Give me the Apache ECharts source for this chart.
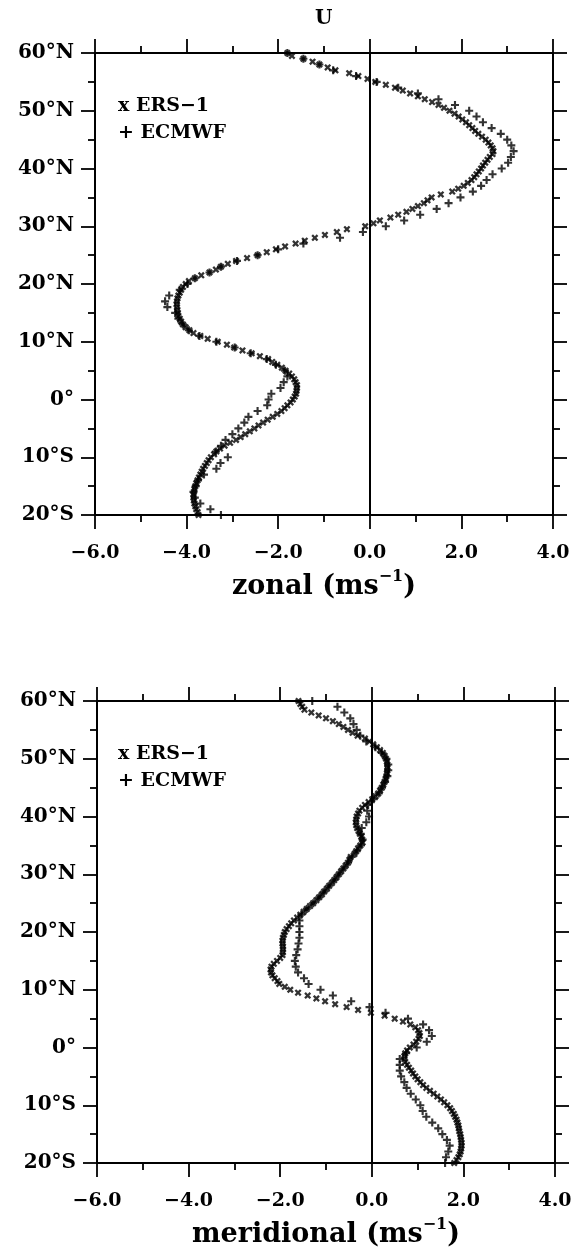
<!DOCTYPE html>
<html>
<head>
<meta charset="utf-8">
<script src="https://cdn.jsdelivr.net/npm/echarts@6/dist/echarts.min.js"></script>
<style>
html,body{margin:0;padding:0;background:#fff;}
#chart{width:576px;height:1253px;}
</style>
</head>
<body>
<div id="chart"></div>
<script>
// Latitudes (deg, +N / -S)
const latERS = [60,59.5,59,58.5,58,57.5,57,56.5,56,55.5,
55,54.5,54,53.5,53,52.5,52,51.5,51,50.5,
50,49.5,49,48.5,48,47.5,47,46.5,46,45.5,
45,44.5,44,43.5,43,42.5,42,41.5,41,40.5,
40,39.5,39,38.5,38,37.5,37,36.5,36,35.5,
35,34.5,34,33.5,33,32.5,32,31.5,31,30.5,
30,29.5,29,28.5,28,27.5,27,26.5,26,25.5,
25,24.5,24,23.5,23,22.5,22,21.5,21,20.5,
20,19.5,19,18.5,18,17.5,17,16.5,16,15.5,
15,14.5,14,13.5,13,12.5,12,11.5,11,10.5,
10,9.5,9,8.5,8,7.5,7,6.5,6,5.5,
5,4.5,4,3.5,3,2.5,2,1.5,1,0.5,
0,-0.5,-1,-1.5,-2,-2.5,-3,-3.5,-4,-4.5,
-5,-5.5,-6,-6.5,-7,-7.5,-8,-8.5,-9,-9.5,
-10,-10.5,-11,-11.5,-12,-12.5,-13,-13.5,-14,-14.5,
-15,-15.5,-16,-16.5,-17,-17.5,-18,-18.5,-19,-19.5,
-20];
const latECM = [60,59,58,57,56,55,54,53,52,51,
50,49,48,47,46,45,44,43,42,41,
40,39,38,37,36,35,34,33,32,31,
30,29,28,27,26,25,24,23,22,21,
20,19,18,17,16,15,14,13,12,11,
10,9,8,7,6,5,4,3,2,1,
0,-1,-2,-3,-4,-5,-6,-7,-8,-9,
-10,-11,-12,-13,-14,-15,-16,-17,-18,-19,
-20];

// Zonal wind (m/s)
const zonalERS = [-1.80,-1.70,-1.45,-1.25,-1.10,-0.92,-0.75,-0.45,-0.25,-0.05,
0.12,0.35,0.55,0.72,0.88,1.05,1.20,1.36,1.50,1.62,
1.74,1.85,1.94,2.02,2.10,2.17,2.24,2.30,2.37,2.45,
2.53,2.59,2.64,2.68,2.70,2.68,2.62,2.57,2.52,2.47,
2.43,2.38,2.33,2.28,2.22,2.14,2.05,1.93,1.80,1.55,
1.35,1.26,1.18,1.05,0.93,0.80,0.62,0.45,0.22,0.08,
-0.10,-0.50,-0.72,-0.98,-1.20,-1.42,-1.62,-1.85,-2.05,-2.25,
-2.45,-2.68,-2.92,-3.10,-3.25,-3.36,-3.50,-3.68,-3.82,-3.95,
-4.02,-4.08,-4.12,-4.15,-4.18,-4.20,-4.21,-4.22,-4.21,-4.20,
-4.19,-4.18,-4.15,-4.12,-4.08,-4.02,-3.94,-3.85,-3.70,-3.54,
-3.32,-3.12,-2.96,-2.78,-2.58,-2.40,-2.22,-2.13,-2.02,-1.92,
-1.84,-1.76,-1.70,-1.65,-1.62,-1.59,-1.59,-1.60,-1.61,-1.64,
-1.68,-1.73,-1.80,-1.86,-1.93,-2.02,-2.12,-2.23,-2.33,-2.43,
-2.52,-2.62,-2.72,-2.82,-2.92,-3.05,-3.17,-3.27,-3.35,-3.40,
-3.47,-3.52,-3.56,-3.60,-3.64,-3.67,-3.70,-3.73,-3.76,-3.79,
-3.81,-3.83,-3.84,-3.85,-3.85,-3.84,-3.83,-3.81,-3.79,-3.76,
-3.74];
const zonalECM = [-1.80,-1.45,-1.10,-0.80,-0.30,0.15,0.62,1.05,1.50,1.86,
2.17,2.33,2.47,2.66,2.86,3.00,3.09,3.14,3.08,3.02,
2.88,2.68,2.55,2.43,2.25,1.98,1.72,1.46,1.10,0.75,
0.35,-0.15,-0.65,-1.45,-2.00,-2.45,-2.90,-3.25,-3.50,-3.82,
-3.98,-4.15,-4.38,-4.47,-4.42,-4.25,-4.18,-4.08,-3.95,-3.72,
-3.35,-2.95,-2.60,-2.25,-2.05,-1.85,-1.80,-1.88,-1.95,-2.15,
-2.21,-2.24,-2.45,-2.65,-2.74,-2.87,-3.00,-3.15,-3.25,-3.36,
-3.10,-3.26,-3.35,-3.62,-3.75,-3.80,-3.85,-3.82,-3.70,-3.48,
-3.25];

// Meridional wind (m/s)
const meridERS = [-1.60,-1.56,-1.52,-1.47,-1.32,-1.16,-1.00,-0.85,-0.72,-0.62,
-0.52,-0.42,-0.31,-0.15,-0.05,0.03,0.11,0.18,0.24,0.28,
0.31,0.33,0.34,0.34,0.34,0.33,0.32,0.30,0.28,0.25,
0.22,0.18,0.14,0.08,0.01,-0.07,-0.15,-0.21,-0.27,-0.30,
-0.33,-0.34,-0.35,-0.34,-0.32,-0.29,-0.26,-0.23,-0.21,-0.20,
-0.25,-0.30,-0.34,-0.38,-0.46,-0.49,-0.52,-0.57,-0.62,-0.67,
-0.72,-0.77,-0.82,-0.87,-0.93,-0.98,-1.04,-1.09,-1.15,-1.21,
-1.28,-1.35,-1.42,-1.49,-1.56,-1.63,-1.70,-1.76,-1.81,-1.86,
-1.90,-1.92,-1.94,-1.95,-1.95,-1.94,-1.94,-1.94,-1.95,-2.00,
-2.07,-2.14,-2.19,-2.21,-2.20,-2.17,-2.12,-2.06,-2.02,-1.90,
-1.78,-1.61,-1.40,-1.21,-1.02,-0.80,-0.55,-0.30,-0.02,0.28,
0.50,0.68,0.84,0.95,1.01,1.04,1.05,1.02,0.97,0.91,
0.83,0.77,0.73,0.71,0.71,0.73,0.77,0.81,0.86,0.90,
0.95,1.00,1.06,1.12,1.19,1.27,1.35,1.43,1.51,1.58,
1.65,1.71,1.75,1.79,1.82,1.85,1.87,1.89,1.90,1.91,
1.93,1.94,1.95,1.96,1.96,1.95,1.94,1.92,1.89,1.85,
1.80];
const meridECM = [-1.30,-0.75,-0.60,-0.47,-0.40,-0.33,-0.25,-0.12,0.08,0.22,
0.32,0.36,0.36,0.34,0.29,0.22,0.15,0.04,-0.08,-0.10,
-0.06,-0.12,-0.22,-0.24,-0.20,-0.24,-0.33,-0.44,-0.52,-0.62,
-0.72,-0.82,-0.93,-1.04,-1.15,-1.28,-1.42,-1.54,-1.58,-1.58,
-1.58,-1.58,-1.60,-1.62,-1.65,-1.68,-1.66,-1.61,-1.48,-1.38,
-1.12,-0.85,-0.45,-0.05,0.30,0.79,1.12,1.25,1.31,1.20,
0.98,0.75,0.61,0.61,0.61,0.64,0.71,0.76,0.85,0.96,
1.06,1.11,1.19,1.32,1.45,1.54,1.64,1.70,1.67,1.62,
1.60];

const xTicks = {min:-6, max:4, interval:2};
const yTicks = {min:-20, max:60, interval:10};
const panelTitle = 'U';
const xNames = ['zonal', 'meridional'];
const legendNames = ['ERS\u22121', 'ECMWF'];

const FONT = '"DejaVu Serif", "Liberation Serif", serif';
const PLUS = 'path://M2.2,0H3.8V2.2H6V3.8H3.8V6H2.2V3.8H0V2.2H2.2Z';
const CROSS = 'path://M0,1.4L1.4,0L3,1.6L4.6,0L6,1.4L4.4,3L6,4.6L4.6,6L3,4.4L1.4,6L0,4.6L1.6,3Z';

function pairs(xs, ys){ return xs.map((v,i)=>[v, ys[i]]); }
function latFmt(v){ if(v>0) return v+'\u00b0N'; if(v<0) return (-v)+'\u00b0S'; return '0\u00b0'; }
function xFmt(v){ return (v<0?'\u2212':'') + Math.abs(v).toFixed(1); }

const grids = [
  {left:95, top:53, width:458, height:462},
  {left:97, top:701, width:458, height:462}
];

const lineBlack = {color:'#000', width:2};
const tickStyle = {length:14, lineStyle:{color:'#000', width:1.8}};
const minorStyle = {show:true, splitNumber:2, length:7, lineStyle:{color:'#000', width:1.8}};

const xAxes = [], yAxes = [];
grids.forEach((g, gi) => {
  xAxes.push({
    gridIndex:gi, type:'value', position:'bottom', min:xTicks.min, max:xTicks.max, interval:xTicks.interval,
    axisLine:{show:true, onZero:false, lineStyle:lineBlack},
    axisTick:tickStyle, minorTick:minorStyle, splitLine:{show:false},
    axisLabel:{formatter:xFmt, fontFamily:FONT, fontWeight:'bold', fontSize:19, color:'#000', margin:29},
    name: xNames[gi] + ' (ms{sup|\u22121})', nameLocation:'middle', nameGap:54,
    nameTextStyle:{fontFamily:FONT, fontWeight:'bold', fontSize:27, color:'#000',
      rich:{sup:{fontFamily:FONT, fontWeight:'bold', fontSize:16, color:'#000', padding:[0,0,20,0]}}}
  });
  xAxes.push({
    gridIndex:gi, type:'value', position:'top', min:xTicks.min, max:xTicks.max, interval:xTicks.interval,
    axisLine:{show:true, onZero:false, lineStyle:lineBlack},
    axisTick:tickStyle, minorTick:minorStyle, splitLine:{show:false}, axisLabel:{show:false}
  });
  yAxes.push({
    gridIndex:gi, type:'value', position:'left', min:yTicks.min, max:yTicks.max, interval:yTicks.interval,
    axisLine:{show:true, onZero:false, lineStyle:lineBlack},
    axisTick:tickStyle, minorTick:minorStyle, splitLine:{show:false},
    axisLabel:{formatter:latFmt, fontFamily:FONT, fontWeight:'bold', fontSize:20, color:'#000', margin:21}
  });
  yAxes.push({
    gridIndex:gi, type:'value', position:'right', min:yTicks.min, max:yTicks.max, interval:yTicks.interval,
    axisLine:{show:true, onZero:false, lineStyle:lineBlack},
    axisTick:tickStyle, minorTick:minorStyle, splitLine:{show:false}, axisLabel:{show:false}
  });
});

function zeroLine(){
  return {silent:true, symbol:['none','none'], label:{show:false},
    lineStyle:{color:'#000', type:'solid', width:2}, data:[{xAxis:0}]};
}

const series = [
  {name:legendNames[1], type:'scatter', xAxisIndex:0, yAxisIndex:0, data:pairs(zonalECM, latECM),
   symbol:PLUS, symbolSize:8, itemStyle:{color:'#000'}, markLine:zeroLine()},
  {name:legendNames[0], type:'scatter', xAxisIndex:0, yAxisIndex:0, data:pairs(zonalERS, latERS),
   symbol:CROSS, symbolSize:7, itemStyle:{color:'#000'}},
  {name:legendNames[1], type:'scatter', xAxisIndex:2, yAxisIndex:2, data:pairs(meridECM, latECM),
   symbol:PLUS, symbolSize:8, itemStyle:{color:'#000'}, markLine:zeroLine()},
  {name:legendNames[0], type:'scatter', xAxisIndex:2, yAxisIndex:2, data:pairs(meridERS, latERS),
   symbol:CROSS, symbolSize:7, itemStyle:{color:'#000'}}
];

const legendFont = {fontFamily:FONT, fontWeight:'bold', fontSize:19, fill:'#000'};
const graphic = [];
[53, 701].forEach(top => {
  graphic.push({type:'text', left:118, top:top+44, style:Object.assign({text:'x ' + legendNames[0]}, legendFont)});
  graphic.push({type:'text', left:118, top:top+71, style:Object.assign({text:'+ ' + legendNames[1]}, legendFont)});
});

const chart = echarts.init(document.getElementById('chart'), null, {renderer:'canvas'});
chart.setOption({
  animation:false,
  backgroundColor:'#fff',
  title:{text:panelTitle, left:310, top:4, textStyle:{fontFamily:FONT, fontWeight:'bold', fontSize:20, color:'#000'}},
  grid:grids,
  xAxis:xAxes,
  yAxis:yAxes,
  series:series,
  graphic:graphic
});
</script>
</body>
</html>
